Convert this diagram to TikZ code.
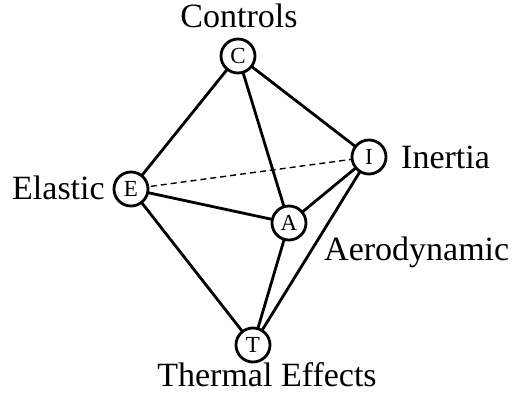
\documentclass[tikz,border=0pt]{standalone}
\usepackage{fontspec}
\setmainfont{Liberation Serif}
\begin{document}
\begin{tikzpicture}[x=1pt,y=-1pt,
  vtx/.style={circle,draw,line width=2.8pt,minimum size=34pt,inner sep=0pt,fill=white,font=\fontsize{23}{23}\selectfont},
  lbl/.style={font=\fontsize{34}{34}\selectfont,inner sep=0pt},
  edge/.style={line width=2.8pt},
  hid/.style={line width=1.4pt,dash pattern=on 6pt off 4pt}]
\useasboundingbox (0,0) rectangle (514,398);
\coordinate (pc) at (238,56);
\coordinate (pi) at (369,157);
\coordinate (pe) at (131,189);
\coordinate (pa) at (289,223);
\coordinate (pt) at (253,345);
\draw[hid] (pe) -- (pi);
\draw[edge] (pc) -- (pe);
\draw[edge] (pc) -- (pa);
\draw[edge] (pc) -- (pi);
\draw[edge] (pe) -- (pa);
\draw[edge] (pe) -- (pt);
\draw[edge] (pa) -- (pi);
\draw[edge] (pa) -- (pt);
\draw[edge] (pi) -- (pt);
\node[vtx] (C) at (pc) {C};
\node[vtx] (I) at (pi) {I};
\node[vtx] (E) at (pe) {E};
\node[vtx] (A) at (pa) {A};
\node[vtx] (T) at (pt) {T};
\node[lbl,anchor=base] (lc) at (239,28) {Controls};
\node[lbl,anchor=base west] (li) at (401,169) {Inertia};
\node[lbl,anchor=base west] (le) at (12,200) {Elastic};
\node[lbl,anchor=base west] (la) at (324,260) {Aerodynamic};
\node[lbl,anchor=base] (lt) at (267,386) {Thermal Effects};
\end{tikzpicture}
\end{document}
